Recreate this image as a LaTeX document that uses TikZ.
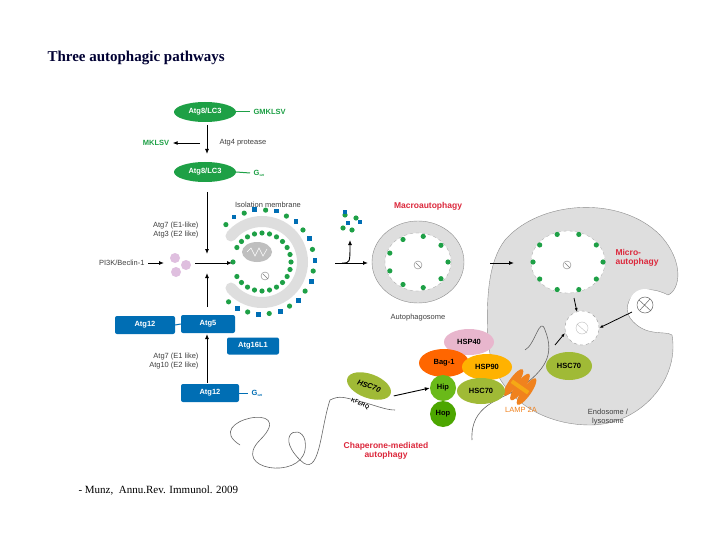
\documentclass[tikz,border=0pt]{standalone}
\usepackage{fontspec}
\setmainfont{Liberation Serif}
\newfontfamily\sans{Liberation Sans}
\usetikzlibrary{arrows.meta,shapes.geometric}
\definecolor{cgreen}{RGB}{30,160,70}
\definecolor{cblue}{RGB}{0,110,180}
\definecolor{cred}{RGB}{220,40,60}
\definecolor{cgray}{RGB}{222,222,222}
\definecolor{corange}{RGB}{240,130,30}
\begin{document}
\begin{tikzpicture}[x=1pt,y=-1pt,
  lbl/.style={font=\sans\fontsize{7.5}{8.5}\selectfont, text=black!75},
  gov/.style={ellipse, fill=cgreen, text=white, font=\sans\bfseries\fontsize{7.5}{8}\selectfont, minimum width=62pt, minimum height=20pt, inner sep=0pt},
  bbox/.style={rectangle, rounded corners=2pt, fill=cblue, text=white, font=\sans\bfseries\fontsize{7.5}{8}\selectfont, inner sep=0pt},
  ar/.style={-{Latex[length=5pt,width=4pt]}, line width=0.9pt},
  red/.style={font=\sans\bfseries\fontsize{8.5}{9.5}\selectfont, text=cred},
  chap/.style={ellipse, font=\sans\bfseries\fontsize{7.5}{8}\selectfont, inner sep=0pt}]
\useasboundingbox (0,0) rectangle (720,540);
\fill[white] (0,0) rectangle (720,540);
\node[anchor=west, font=\bfseries\fontsize{15}{18}\selectfont, text=black!80!blue] (title) at (44,58) {Three autophagic pathways};

% isolation membrane (drawn first)
\node[lbl] (iso) at (268,205) {Isolation membrane};
\coordinate (ic) at (262,262);
\fill[cgray, even odd rule] (262,262) ellipse (46 and 46) (262,262) ellipse (35 and 35);
\fill[white] (ic) -- ([shift={(140:60)}]ic) -- ([shift={(220:60)}]ic) -- cycle;
\fill[cgray] ([shift={(140:40.5)}]ic) ellipse (5.5 and 5.5) ([shift={(220:40.5)}]ic) ellipse (5.5 and 5.5);
\fill[black!25] (257,252) ellipse (15 and 10);
\draw[white, line width=0.5pt] (247,252) -- (251,248) -- (255,256) -- (259,248) -- (263,256) -- (267,249);
\draw[black!50, line width=0.4pt] (265,276) circle (4) (263,274) -- (268,279);
\foreach \a in {150,180,-150,120,0,30,60,90,-30,-60,-90,15,45,75,105,-15,-45,-75,-105,135,-120,-135}{
  \fill[cgreen] (ic) ++(\a:29) circle (2.6);}
\foreach \a [count=\i] in {130,118,106,94,82,70,58,46,34,22,10,-2,-14,-26,-38,-50,-62,-74,-86,-98,-110,-122,-134}{
  \ifodd\i \fill[cgreen] (ic) ++(\a:52) circle (2.6);
  \else \fill[cblue] (ic) ++(\a:53) ++(-2.4,-2.4) rectangle ++(4.8,4.8); \fi}

% Atg8 pathway
\node[gov] (lc1) at (205,112) {Atg8/LC3};
\node[anchor=west, font=\sans\bfseries\fontsize{7.5}{8}\selectfont, text=cgreen] (gm) at (250,112) {GMKLSV};
\draw[cgreen, line width=1pt] (lc1.east) -- (gm.west);
\coordinate (a1s) at (207,125); \coordinate (a1e) at (207,154);
\draw[ar] (a1s) -- (a1e);
\node[font=\sans\bfseries\fontsize{7.5}{8}\selectfont, text=cgreen] (mk) at (156,143) {MKLSV};
\coordinate (mks) at (200,143);
\draw[ar] (mks) -- (mk.east);
\node[lbl, anchor=west] (a4) at (216,143) {Atg4 protease};
\node[gov] (lc2) at (205,172) {Atg8/LC3};
\node[anchor=west, font=\sans\bfseries\fontsize{7.5}{8}\selectfont, text=cgreen] (g1) at (250,173) {G\textsubscript{\fontsize{3}{3}\selectfont 120}};
\draw[cgreen, line width=1pt] (lc2.east) -- (g1.west);
\coordinate (a2s) at (207,192); \coordinate (a2e) at (207,254);
\draw[ar] (a2s) -- (a2e);
\node[lbl, anchor=east, align=right] (e1) at (202,230) {Atg7 (E1-like)\\Atg3 (E2 like)};

% PI3K
\node[lbl, anchor=east] (pi) at (148,263) {PI3K/Beclin-1};
\coordinate (pie) at (164,263);
\draw[ar] (pi.east) -- (pie);
\foreach \p in {(175,258),(186,265),(176,272)} \fill[violet!25] \p circle (5);
\coordinate (hs) at (195,263); \coordinate (he) at (232,263);
\draw[ar] (hs) -- (he);
\coordinate (vs) at (207,307); \coordinate (ve) at (207,273);
\draw[ar] (vs) -- (ve);

% released
\coordinate (ms) at (335,263); \coordinate (me) at (368,263);
\draw[ar] (ms) -- (me);
\coordinate (up) at (350,240);
\draw[ar] (342,263) .. controls (350,263) .. (up);
\foreach \p in {(345,215),(356,218),(343,228),(352,230)} \fill[cgreen] \p circle (2.6);
\foreach \p in {(345,212),(360,222),(348,223)} \fill[cblue] \p ++(-2.4,-2.4) rectangle ++(4.8,4.8);

% autophagosome
\node[red] (macro) at (428,206) {Macroautophagy};
\fill[cgray, even odd rule] (418,262) ellipse (46 and 41) (418,262) ellipse (33 and 29);
\draw[black!45, line width=0.4pt] (418,262) ellipse (46 and 41);
\draw[black!35, dashed, line width=0.3pt] (418,262) ellipse (33 and 29);
\foreach \a in {0,40,80,120,160,200,240,280,320} \fill[cgreen] (418,262) ++(\a:30 and 26) circle (2.6);
\draw[black!50, line width=0.4pt] (418,265) circle (4) (416,263) -- (421,268);
\node[lbl] (aps) at (418,318) {Autophagosome};

% lysosome
\def\lyso{(505,240) .. controls (540,200) and (620,195) .. (660,235)
  .. controls (685,262) and (680,290) .. (668,295)
  .. controls (640,280) and (620,300) .. (630,318)
  .. controls (645,338) and (665,330) .. (672,335)
  .. controls (680,380) and (640,425) .. (590,425)
  .. controls (540,425) and (492,395) .. (488,340)
  .. controls (486,300) and (488,262) .. (505,240) -- cycle}
\fill[cgray] \lyso;
\draw[black!45, line width=0.4pt] \lyso;
\fill[white] (568,262) ellipse (37 and 31);
\draw[black!35, dashed, line width=0.3pt] (568,262) ellipse (37 and 31);
\foreach \a in {0,36,72,108,144,180,216,252,288,324} \fill[cgreen] (568,262) ++(\a:35 and 29) circle (2.6);
\draw[black!50, line width=0.4pt] (567,265) circle (4) (565,263) -- (570,268);
\coordinate (ls) at (490,263); \coordinate (le) at (514,263);
\draw[ar] (ls) -- (le);
\node[red, anchor=west, align=left] (micro) at (612,258) {Micro-\\autophagy};
\node[circle, fill=white, draw=black!40, dashed, minimum size=34pt, inner sep=0pt] (deg) at (582,328) {};
\draw[black!25] (582,328) circle (6) (577,324) -- (587,333);
\coordinate (ds) at (574,298);
\draw[-{Latex[length=4pt,width=3pt]}, line width=0.8pt] (ds) -- (577,312);
\fill[white] (645,305) circle (16);
\draw[black!60, line width=0.5pt] (645,305) circle (8) (639,300) -- (651,311) (640,310) -- (650,299);
\coordinate (ns) at (632,312);
\draw[-{Latex[length=4pt,width=3pt]}, line width=0.8pt] (ns) -- (deg.east);
\node[lbl, align=center] (endo) at (608,417) {Endosome /\\lysosome};

% thread through LAMP2A
\draw[black!60, line width=0.6pt] (472,440) .. controls (470,405) and (500,400) .. (520,388)
  .. controls (545,370) and (555,355) .. (545,330) .. controls (540,315) and (535,345) .. (525,350);
\coordinate (cs) at (555,345);
\draw[-{Latex[length=4pt,width=3pt]}, line width=0.8pt] (cs) -- (565,333);

% LAMP 2A
\begin{scope}[rotate around={-35:(520,387)}]
 \foreach \dx in {-8,0,8} \fill[corange] (520+\dx,387) ellipse (4.5 and 16);
 \fill[corange!70!yellow] (510,385) rectangle (530,389);
\end{scope}
\node[font=\sans\fontsize{7.5}{8}\selectfont, text=corange] (lamp) at (521,410) {LAMP 2A};
\node[chap, fill=yellow!70!green!80!black, minimum width=46pt, minimum height=28pt] (hscr) at (569,366) {HSC70};

% chaperone cluster
\node[chap, fill=pink!70!violet!60, minimum width=50pt, minimum height=26pt] (h40) at (469,342) {HSP40};
\node[chap, fill=orange!80!red, minimum width=50pt, minimum height=28pt] (bag) at (444,363) {Bag-1};
\node[chap, fill=orange!60!yellow, minimum width=50pt, minimum height=26pt] (h90) at (487,367) {HSP90};
\node[chap, fill=yellow!70!green!80!black, minimum width=48pt, minimum height=26pt] (hsc) at (481,391) {HSC70};
\node[chap, fill=green!50!yellow!70!black!90, minimum size=26pt] (hip) at (443,388) {Hip};
\node[chap, fill=green!50!black!70!yellow, minimum size=26pt] (hop) at (443,414) {Hop};

% left HSC70 + KFERQ
\draw[black!60, line width=0.6pt] (240,445) .. controls (200,420) and (300,400) .. (260,440)
  .. controls (230,470) and (300,480) .. (305,450) .. controls (310,420) and (270,430) .. (300,460)
  .. controls (320,480) and (320,430) .. (330,400) .. controls (340,395) and (345,398) .. (355,400)
  .. controls (375,405) and (385,410) .. (395,410);
\node[chap, fill=yellow!70!green!80!black, minimum width=46pt, minimum height=24pt, rotate=-20] (hscl) at (369,386) {\itshape HSC70};
\node[font=\sans\bfseries\fontsize{5.5}{6}\selectfont, rotate=-25, fill=white, inner sep=0.5pt] (kf) at (360,404) {KFERQ};
\draw[ar] (hscl.east) ++(3,2) -- (hip.west);
\node[red, align=center] (cma) at (386,451) {Chaperone-mediated\\autophagy};

% Atg12 pathway
\node[bbox, minimum width=60pt, minimum height=18pt] (a12) at (145,325) {Atg12};
\node[bbox, minimum width=54pt, minimum height=18pt] (a5) at (208,324) {Atg5};
\node[bbox, minimum width=52pt, minimum height=17pt] (a16) at (253,346) {Atg16L1};
\draw[cblue, line width=1pt] (a12.east) -- (a5.west);
\node[lbl, anchor=east, align=right] (e2) at (202,361) {Atg7 (E1 like)\\Atg10 (E2 like)};
\node[bbox, minimum width=58pt, minimum height=18pt] (a12b) at (210,393) {Atg12};
\node[anchor=west, font=\sans\bfseries\fontsize{7.5}{8}\selectfont, text=cblue] (g2) at (248,393) {G\textsubscript{\fontsize{3}{3}\selectfont 120}};
\draw[cblue, line width=1pt] (a12b.east) -- (g2.west);
\coordinate (us) at (207,383); \coordinate (ue) at (207,334);
\draw[ar] (us) -- (ue);

\node[anchor=west, font=\fontsize{11}{13}\selectfont] (cite) at (75,491) {- Munz,\ \ Annu.Rev. Immunol. 2009};
\end{tikzpicture}
\end{document}
